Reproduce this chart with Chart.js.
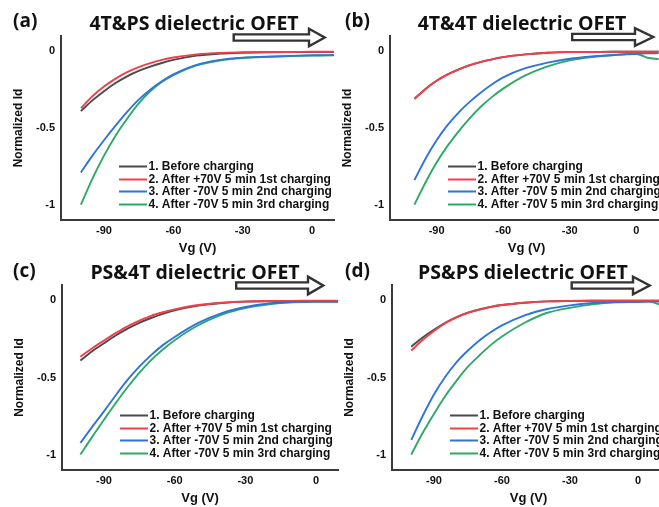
<!DOCTYPE html>
<html><head><meta charset="utf-8">
<script src="https://cdn.jsdelivr.net/npm/chart.js@4.4.0/dist/chart.umd.min.js"></script>
<style>
html,body{margin:0;padding:0;background:#fff;width:659px;height:507px;overflow:hidden;}
body{position:relative;}
canvas{position:absolute;}
.lbl{position:absolute;font-family:"Open Sans",sans-serif;font-weight:700;color:#111;white-space:nowrap;line-height:24px;font-size:19px;}
.ttl{position:absolute;font-family:"Open Sans",sans-serif;font-weight:700;color:#111;white-space:nowrap;line-height:24px;text-align:center;width:320px;font-size:19.5px;}
svg{position:absolute;left:0;top:0;}
</style></head><body>
<script>
// ---- data ----
const vg = [-100,-95,-90,-85,-80,-75,-70,-65,-60,-50,-40,-30,-20,-10,0,5,10];
const seriesLabels = ['1. Before charging','2. After +70V 5 min 1st charging','3. After -70V 5 min 2nd charging','4. After -70V 5 min 3rd charging'];
const panelLetters = ['(a)','(b)','(c)','(d)'];
const panelTitles = ['4T&PS dielectric OFET','4T&4T dielectric OFET','PS&4T dielectric OFET','PS&PS dielectric OFET'];
const xTicks = [-90,-60,-30,0];
const yTicks = [0,-0.5,-1];
const xTitle = 'Vg (V)';
const yTitle = 'Normalized Id';

// panel (a) 4T&PS
const a_before = [-0.39,-0.32,-0.26,-0.207,-0.163,-0.128,-0.10,-0.076,-0.056,-0.028,-0.015,-0.009,-0.006,-0.005,-0.005,-0.005,-0.005];
const a_pos70  = [-0.37,-0.293,-0.23,-0.178,-0.136,-0.103,-0.077,-0.056,-0.04,-0.02,-0.01,-0.006,-0.004,-0.004,-0.003,-0.003,-0.003];
const a_neg70a = [-0.79,-0.68,-0.58,-0.485,-0.395,-0.315,-0.25,-0.195,-0.15,-0.088,-0.056,-0.041,-0.035,-0.03,-0.026,-0.025,-0.024];
const a_neg70b = [-1.0,-0.83,-0.68,-0.55,-0.44,-0.34,-0.26,-0.2,-0.155,-0.092,-0.06,-0.044,-0.036,-0.031,-0.028,-0.027,-0.026];
// panel (b) 4T&4T
const b_before = [-0.31,-0.245,-0.192,-0.15,-0.117,-0.09,-0.069,-0.052,-0.038,-0.02,-0.009,-0.005,-0.004,-0.003,-0.003,-0.003,-0.003];
const b_pos70  = [-0.31,-0.245,-0.192,-0.15,-0.117,-0.09,-0.069,-0.052,-0.038,-0.02,-0.009,-0.005,-0.004,-0.003,-0.003,-0.003,-0.003];
const b_neg70a = [-0.84,-0.70,-0.58,-0.48,-0.398,-0.328,-0.268,-0.215,-0.17,-0.11,-0.074,-0.048,-0.033,-0.024,-0.015,-0.013,-0.012];
const b_neg70b = [-1.0,-0.855,-0.725,-0.615,-0.52,-0.435,-0.36,-0.297,-0.243,-0.157,-0.098,-0.059,-0.037,-0.024,-0.017,-0.042,-0.05];
// panel (c) PS&4T
const c_before = [-0.39,-0.33,-0.278,-0.228,-0.183,-0.145,-0.114,-0.087,-0.065,-0.034,-0.017,-0.008,-0.005,-0.004,-0.004,-0.004,-0.004];
const c_pos70  = [-0.365,-0.31,-0.26,-0.212,-0.168,-0.131,-0.10,-0.077,-0.058,-0.03,-0.015,-0.007,-0.004,-0.003,-0.002,-0.002,-0.002];
const c_neg70a = [-0.925,-0.82,-0.72,-0.615,-0.516,-0.43,-0.355,-0.29,-0.237,-0.146,-0.082,-0.043,-0.02,-0.01,-0.008,-0.008,-0.008];
const c_neg70b = [-1.0,-0.885,-0.774,-0.665,-0.563,-0.47,-0.387,-0.318,-0.258,-0.161,-0.092,-0.05,-0.026,-0.013,-0.009,-0.009,-0.009];
// panel (d) PS&PS
const d_before = [-0.30,-0.24,-0.19,-0.145,-0.108,-0.079,-0.059,-0.042,-0.03,-0.015,-0.006,-0.003,-0.002,-0.002,-0.002,-0.002,-0.002];
const d_pos70  = [-0.325,-0.257,-0.198,-0.148,-0.11,-0.08,-0.06,-0.043,-0.03,-0.015,-0.006,-0.003,-0.002,-0.002,-0.002,-0.002,-0.002];
const d_neg70a = [-0.905,-0.75,-0.61,-0.495,-0.40,-0.325,-0.26,-0.207,-0.162,-0.097,-0.056,-0.032,-0.017,-0.01,-0.008,-0.007,-0.007];
const d_neg70b = [-1.0,-0.86,-0.736,-0.62,-0.52,-0.43,-0.357,-0.29,-0.234,-0.145,-0.08,-0.048,-0.026,-0.013,-0.01,-0.008,-0.03];

// ---- styling / layout ----
const colors = ['#4a4a4a','#f0404a','#2f74db','#2ea965'];
const drawOrder = [1,0,2,3];
const FONT = '"Liberation Sans", Arial, sans-serif';
Chart.defaults.font.family = FONT;

const panels = [
  {series:[a_before,a_pos70,a_neg70a,a_neg70b], left:0,   top:0,   width:340, xmin:-108.6, xmax:9.5,  padTop:36, padRight:6,
   ttlX:194, ttlY:11, letX:13, letY:8, arrow:{x0:232.5,xh:309,xt:326.5,yc:37.5}},
  {series:[b_before,b_pos70,b_neg70a,b_neg70b], left:329, top:0,   width:345, xmin:-111,   xmax:12,   padTop:36, padRight:11,
   ttlX:522, ttlY:10.5, letX:345, letY:8, arrow:{x0:571,xh:635,xt:655,yc:37}},
  {series:[c_before,c_pos70,c_neg70a,c_neg70b], left:1,   top:250, width:340, xmin:-107.8, xmax:9.3,  padTop:35, padRight:3,
   ttlX:195, ttlY:260, letX:13, letY:258, arrow:{x0:235,xh:308,xt:325,yc:285.5}},
  {series:[d_before,d_pos70,d_neg70a,d_neg70b], left:331, top:250, width:345, xmin:-108.5, xmax:11.9, padTop:35, padRight:11,
   ttlX:523, ttlY:260, letX:345, letY:258, arrow:{x0:570.5,xh:633,xt:651.5,yc:285.5}}
];

const insideLegend = {
  id:'insideLegend',
  afterDatasetsDraw(chart, args, opts){
    const {ctx, chartArea} = chart;
    ctx.save();
    ctx.font = 'bold 12px ' + FONT;
    ctx.textBaseline = 'middle';
    ctx.textAlign = 'left';
    chart.data.datasets.forEach((ds,i)=>{
      const y = Math.round(chartArea.top + opts.top + i*opts.step) + 0.5;
      const x = chartArea.left + opts.left;
      ctx.strokeStyle = ds.borderColor;
      ctx.lineWidth = 2;
      ctx.beginPath(); ctx.moveTo(x,y); ctx.lineTo(x+opts.len,y); ctx.stroke();
      ctx.fillStyle = '#111';
      ctx.fillText(ds.label, x+opts.len+1.5, y+0.5);
    });
    ctx.restore();
  }
};

let svg = '<svg width="659" height="507" xmlns="http://www.w3.org/2000/svg">';
panels.forEach((p,pi)=>{
  const cv = document.createElement('canvas');
  cv.width = p.width; cv.height = 260;
  cv.style.left = p.left+'px'; cv.style.top = p.top+'px';
  cv.style.width = p.width+'px'; cv.style.height = '260px';
  document.body.appendChild(cv);

  const datasets = p.series.map((vals,i)=>({
    label: seriesLabels[i],
    data: vg.map((x,k)=>({x:x, y:vals[k]})),
    borderColor: colors[i],
    backgroundColor: colors[i],
    borderWidth: 1.9,
    pointRadius: 0,
    fill: false,
    cubicInterpolationMode: 'monotone',
    order: drawOrder[i]
  }));

  new Chart(cv.getContext('2d'), {
    type:'line',
    data:{datasets},
    plugins:[insideLegend],
    options:{
      responsive:false, animation:false, devicePixelRatio:1,
      layout:{padding:{left:0, top:p.padTop, right:p.padRight, bottom:0}},
      plugins:{
        legend:{display:false}, tooltip:{enabled:false}, title:{display:false},
        insideLegend:{left:58, top:130, step:12.7, len:28}
      },
      scales:{
        x:{
          type:'linear', min:p.xmin, max:p.xmax,
          grid:{display:false, drawTicks:false},
          border:{display:true, color:'#3a3a3a', width:2},
          afterBuildTicks:(s)=>{ s.ticks = xTicks.map(v=>({value:v})); },
          afterFit:(s)=>{ s.height = 40; },
          ticks:{padding:4, color:'#111', font:{size:11, weight:'bold'}, maxRotation:0, autoSkip:false,
                 callback:(v)=>String(v)},
          title:{display:true, text:xTitle, color:'#111', font:{size:13, weight:'bold'}, padding:{top:0,bottom:4}}
        },
        y:{
          type:'linear', min:-1.1, max:0.1,
          grid:{display:false, drawTicks:false},
          border:{display:true, color:'#3a3a3a', width:2},
          afterBuildTicks:(s)=>{ s.ticks = yTicks.map(v=>({value:v})); },
          afterFit:(s)=>{ s.width = 61; },
          ticks:{padding:6, color:'#111', font:{size:11, weight:'bold'}, callback:(v)=>String(v)},
          title:{display:true, text:yTitle, color:'#111', font:{size:12, weight:'bold'}, padding:{top:11,bottom:0}}
        }
      }
    }
  });

  const l = document.createElement('div');
  l.className='lbl'; l.textContent = panelLetters[pi];
  l.style.left = p.letX+'px'; l.style.top = p.letY+'px';
  document.body.appendChild(l);
  const t = document.createElement('div');
  t.className='ttl'; t.textContent = panelTitles[pi];
  t.style.left = (p.ttlX-160)+'px'; t.style.top = p.ttlY+'px';
  document.body.appendChild(t);

  const a = p.arrow, sw = 2.4, h = sw/2;
  const sh = 4.3 - h, hh = 10 - h;
  const pts = [[a.x0+h,a.yc-sh],[a.xh,a.yc-sh],[a.xh,a.yc-hh],[a.xt-1.8,a.yc],[a.xh,a.yc+hh],[a.xh,a.yc+sh],[a.x0+h,a.yc+sh]];
  svg += '<polygon points="'+pts.map(q=>q.join(',')).join(' ')+'" fill="#fff" stroke="#333" stroke-width="'+sw+'" stroke-linejoin="miter"/>';
});
svg += '</svg>';
const holder = document.createElement('div');
holder.innerHTML = svg;
holder.style.position='absolute'; holder.style.left='0'; holder.style.top='0';
document.body.appendChild(holder);
</script>
</body></html>
